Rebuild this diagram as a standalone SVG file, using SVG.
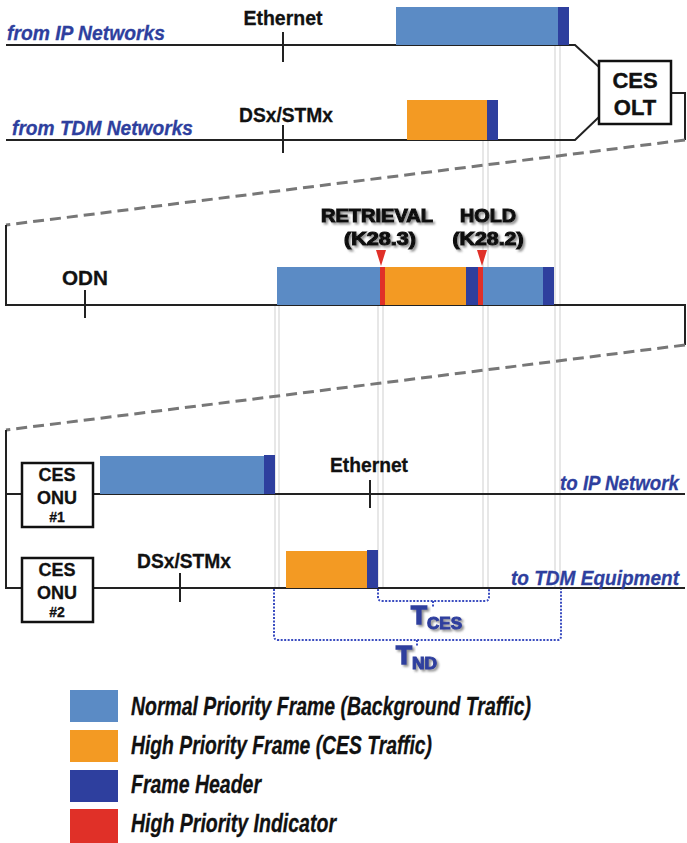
<svg xmlns="http://www.w3.org/2000/svg" width="687" height="843" viewBox="0 0 687 843">
<defs>
<filter id="sh" x="-10%" y="-30%" width="130%" height="180%">
<feDropShadow dx="2" dy="2" stdDeviation="1.3" flood-color="#666" flood-opacity="0.7"/>
</filter>
</defs>
<style>
.ln{stroke:#222;stroke-width:2;fill:none}
.tk{stroke:#222;stroke-width:2}
.dash{stroke:#777;stroke-width:3;stroke-dasharray:11 6;fill:none}
.gl{stroke:#cfcfcf;stroke-width:1;fill:none}
.dot{stroke:#3a4cc0;stroke-width:2;stroke-dasharray:2 1.5;fill:none}
.box{fill:#fff;stroke:#111;stroke-width:2.5}
.lbl{font-family:"Liberation Sans",Arial,sans-serif;font-weight:bold;font-size:21px;fill:#111;stroke:#111;stroke-width:0.3;text-anchor:middle}
.bt{font-family:"Liberation Sans",Arial,sans-serif;font-weight:bold;font-size:22px;fill:#111;stroke:#111;stroke-width:0.4;text-anchor:middle}
.st{font-family:"Liberation Sans",Arial,sans-serif;font-weight:bold;font-size:18px;fill:#111;stroke:#111;stroke-width:0.3;text-anchor:middle}
.blu{font-family:"Liberation Sans",Arial,sans-serif;font-weight:bold;font-style:italic;font-size:20px;fill:#2e3f9e;stroke:#2e3f9e;stroke-width:0.3}
.hv{font-family:"Liberation Sans",Arial,sans-serif;font-weight:900;font-size:18px;fill:#111;stroke:#111;stroke-width:1.1;text-anchor:middle;filter:url(#sh)}
.tt{font-family:"Liberation Sans",Arial,sans-serif;font-weight:900;fill:#2e3f9e;stroke:#2e3f9e;stroke-width:1.6;filter:url(#sh)}
.nb{fill:#5b8bc5}.hb{fill:#f39a23}.fh{fill:#2e3f9e}.ri{fill:#e03028}
.leg{font-family:"Liberation Sans",Arial,sans-serif;font-weight:bold;font-style:italic;font-size:25px;fill:#111;stroke:#111;stroke-width:0.3}
</style>
<rect width="687" height="843" fill="#fff"/>

<g id="guides">
<path class="gl" d="M555,45V588M560,45V588M483,140V588M488,140V588M378,305V588M383,305V588M275,305V588M279,305V588"/>
</g>

<g id="connectors">
<path class="ln" d="M6,45H575L599,67"/>
<path class="ln" d="M6,140H575L599,117"/>
<path class="ln" d="M671,93H685V140"/>
<path class="dash" d="M685,140L6,225"/>
<path class="ln" d="M6,225V305H685V345"/>
<path class="dash" d="M685,345L6,430"/>
<path class="ln" d="M6,430V588H22M6,494H22M93,494H685M93,588H685"/>
<path class="tk" d="M283,32V62M283,125V153M85,290V318M370,480V508M180,573V602"/>
</g>

<g id="ip-in">
<text class="blu" x="7" y="40" textLength="158" lengthAdjust="spacingAndGlyphs">from IP Networks</text>
<text class="lbl" x="283" y="25" textLength="79" lengthAdjust="spacingAndGlyphs">Ethernet</text>
<rect class="nb" x="396" y="7" width="162" height="38"/>
<rect class="fh" x="558" y="7" width="11" height="38"/>
</g>

<g id="tdm-in">
<text class="blu" x="12" y="135" textLength="181" lengthAdjust="spacingAndGlyphs">from TDM Networks</text>
<text class="lbl" x="286" y="122" textLength="94" lengthAdjust="spacingAndGlyphs">DSx/STMx</text>
<rect class="hb" x="407" y="100" width="80" height="40"/>
<rect class="fh" x="487" y="100" width="11" height="40"/>
</g>

<g id="olt">
<rect class="box" x="599" y="61" width="72" height="63"/>
<text class="bt" x="635" y="88">CES</text>
<text class="bt" x="635" y="115">OLT</text>
</g>

<g id="odn">
<text class="lbl" x="85" y="285" textLength="46" lengthAdjust="spacingAndGlyphs">ODN</text>
<rect class="nb" x="277" y="267" width="103" height="38"/>
<rect class="ri" x="380" y="267" width="5" height="38"/>
<rect class="hb" x="385" y="267" width="81" height="38"/>
<rect class="fh" x="466" y="267" width="12" height="38"/>
<rect class="ri" x="478" y="267" width="5" height="38"/>
<rect class="nb" x="483" y="267" width="60" height="38"/>
<rect class="fh" x="543" y="267" width="11" height="38"/>
<polygon class="ri" points="376,250 386,250 381,266"/>
<polygon class="ri" points="477,250 487,250 482,266"/>
<text class="hv" x="377" y="222" textLength="112" lengthAdjust="spacingAndGlyphs">RETRIEVAL</text>
<text class="hv" x="380" y="245" textLength="72" lengthAdjust="spacingAndGlyphs">(K28.3)</text>
<text class="hv" x="488" y="222" textLength="56" lengthAdjust="spacingAndGlyphs">HOLD</text>
<text class="hv" x="488" y="245" textLength="71" lengthAdjust="spacingAndGlyphs">(K28.2)</text>
</g>

<g id="onu1">
<rect class="box" x="22" y="463" width="71" height="64"/>
<text class="st" x="57" y="481">CES</text>
<text class="st" x="57" y="504">ONU</text>
<text class="st" x="57" y="522" style="font-size:14px">#1</text>
<rect class="nb" x="100" y="456" width="164" height="38"/>
<rect class="fh" x="264" y="455" width="11" height="39"/>
<text class="lbl" x="369" y="472" textLength="78" lengthAdjust="spacingAndGlyphs">Ethernet</text>
<text class="blu" x="679" y="490" text-anchor="end" textLength="119" lengthAdjust="spacingAndGlyphs">to IP Network</text>
</g>

<g id="onu2">
<rect class="box" x="22" y="558" width="71" height="64"/>
<text class="st" x="57" y="576">CES</text>
<text class="st" x="57" y="599">ONU</text>
<text class="st" x="57" y="617" style="font-size:14px">#2</text>
<text class="lbl" x="184" y="568" textLength="94" lengthAdjust="spacingAndGlyphs">DSx/STMx</text>
<rect class="hb" x="286" y="551" width="81" height="37"/>
<rect class="fh" x="367" y="550" width="11" height="38"/>
<text class="blu" x="679" y="585" text-anchor="end" textLength="168" lengthAdjust="spacingAndGlyphs">to TDM Equipment</text>
</g>

<g id="t-ces">
<path class="dot" d="M378,589V597Q378,601 382,601H485Q489,601 489,597V589M433,601V607"/>
<text class="tt" x="411" y="624" style="font-size:26px">T</text>
<text class="tt" x="427" y="629" style="font-size:16px;stroke-width:1" textLength="35" lengthAdjust="spacingAndGlyphs">CES</text>
</g>

<g id="t-nd">
<path class="dot" d="M274,589V636Q274,640 278,640H557Q561,640 561,636V589M417,640V647"/>
<text class="tt" x="396" y="664" style="font-size:26px">T</text>
<text class="tt" x="412" y="669" style="font-size:16px;stroke-width:1" textLength="25" lengthAdjust="spacingAndGlyphs">ND</text>
</g>

<g id="legend">
<rect class="nb" x="70" y="690" width="48" height="32"/>
<text class="leg" x="131" y="715" textLength="400" lengthAdjust="spacingAndGlyphs">Normal Priority Frame (Background Traffic)</text>
<rect class="hb" x="70" y="730" width="48" height="32"/>
<text class="leg" x="131" y="754" textLength="301" lengthAdjust="spacingAndGlyphs">High Priority Frame (CES Traffic)</text>
<rect class="fh" x="70" y="770" width="48" height="32"/>
<text class="leg" x="131" y="793" textLength="130" lengthAdjust="spacingAndGlyphs">Frame Header</text>
<rect class="ri" x="70" y="809" width="48" height="34"/>
<text class="leg" x="131" y="832" textLength="205" lengthAdjust="spacingAndGlyphs">High Priority Indicator</text>
</g>
</svg>
